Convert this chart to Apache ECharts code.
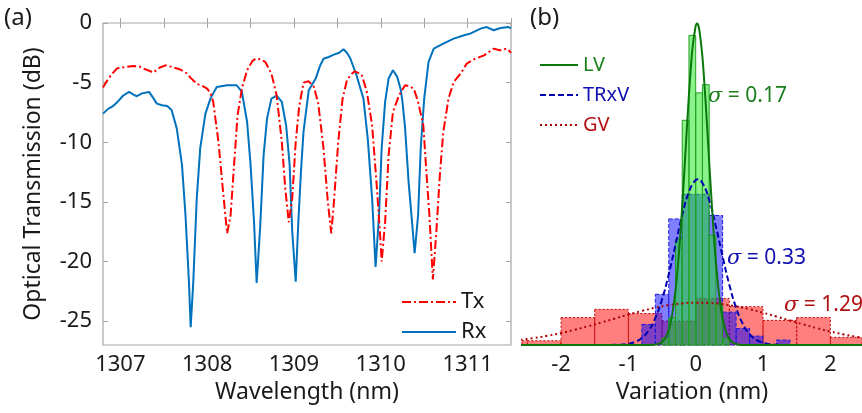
<!DOCTYPE html>
<html><head><meta charset="utf-8">
<script src="https://cdn.jsdelivr.net/npm/echarts@6/dist/echarts.min.js"></script>
<style>html,body{margin:0;padding:0;background:#fff}#c{width:862px;height:413px}</style>
</head><body><div id="c"></div>
<script>
// ---------- Panel (a) data: [wavelength nm, transmission dB] ----------
const rxData = [
[1306.80,-7.6],[1306.86,-7.2],[1306.91,-7.0],[1306.96,-6.67],[1307.03,-6.1],[1307.10,-5.78],[1307.15,-6.0],
[1307.19,-6.14],[1307.25,-5.9],[1307.33,-5.78],[1307.38,-6.3],[1307.42,-6.76],[1307.48,-6.9],[1307.54,-6.96],
[1307.59,-7.3],[1307.65,-8.85],[1307.71,-11.9],[1307.75,-16.1],[1307.79,-21.7],[1307.81,-25.5],[1307.84,-21.7],
[1307.88,-14.7],[1307.92,-10.5],[1307.98,-7.6],[1308.04,-6.3],[1308.11,-5.36],[1308.23,-5.22],[1308.34,-5.22],
[1308.40,-5.78],[1308.46,-8.3],[1308.50,-11.9],[1308.54,-16.7],[1308.57,-21.8],[1308.61,-17.2],[1308.65,-11.1],
[1308.69,-8.0],[1308.74,-6.34],[1308.80,-6.09],[1308.86,-6.62],[1308.91,-8.6],[1308.95,-11.9],[1308.98,-17.5],
[1309.02,-21.7],[1309.05,-16.7],[1309.08,-12.5],[1309.11,-9.1],[1309.17,-5.64],[1309.25,-4.66],[1309.30,-3.6],
[1309.34,-3.0],[1309.40,-2.85],[1309.46,-2.65],[1309.52,-2.5],[1309.57,-2.2],[1309.61,-2.5],[1309.65,-2.98],
[1309.72,-4.38],[1309.80,-6.34],[1309.85,-9.69],[1309.90,-14.7],
[1309.94,-20.45],[1309.98,-16.1],[1310.01,-10.5],[1310.05,-6.62],[1310.09,-4.66],[1310.14,-3.96],[1310.19,-4.52],
[1310.23,-5.6],[1310.25,-6.62],[1310.28,-8.8],[1310.32,-13.3],[1310.36,-16.7],[1310.39,-19.3],[1310.43,-16.1],
[1310.46,-10.5],[1310.50,-6.34],[1310.55,-3.27],[1310.61,-2.15],[1310.72,-1.73],[1310.84,-1.31],[1310.96,-1.03],
[1311.03,-0.89],[1311.15,-0.47],[1311.22,-0.34],[1311.30,-0.61],[1311.38,-0.42],[1311.47,-0.34],[1311.50,-0.45]
];
const txData = [
[1306.80,-5.4],[1306.85,-4.8],[1306.90,-4.3],[1306.96,-3.82],[1307.05,-3.7],[1307.15,-3.6],[1307.22,-3.65],
[1307.27,-3.82],[1307.33,-4.0],[1307.38,-4.16],[1307.45,-3.75],[1307.52,-3.55],[1307.60,-3.7],[1307.69,-3.9],
[1307.76,-4.2],[1307.81,-4.6],[1307.88,-5.1],[1307.95,-5.3],[1308.00,-5.5],[1308.04,-5.9],[1308.07,-6.62],
[1308.13,-9.97],[1308.18,-13.9],[1308.23,-17.65],[1308.27,-16.1],[1308.31,-11.9],[1308.35,-7.74],[1308.40,-5.5],
[1308.46,-3.96],[1308.52,-3.2],[1308.56,-2.98],[1308.62,-3.05],[1308.67,-3.27],[1308.74,-4.24],[1308.80,-6.06],
[1308.86,-9.97],[1308.90,-13.9],[1308.94,-16.7],[1308.98,-14.7],[1309.02,-9.97],[1309.06,-7.0],[1309.11,-5.0],
[1309.17,-4.89],[1309.23,-5.36],[1309.28,-6.76],[1309.34,-10.5],[1309.39,-15.0],[1309.43,-17.65],[1309.46,-15.0],
[1309.51,-9.97],[1309.56,-6.34],[1309.61,-4.8],[1309.66,-4.3],[1309.70,-4.05],[1309.78,-4.33],[1309.84,-5.78],
[1309.90,-8.58],[1309.95,-13.3],[1309.99,-17.5],[1310.01,-20.0],[1310.05,-16.7],[1310.09,-11.1],[1310.14,-7.46],
[1310.21,-6.06],[1310.28,-5.22],[1310.33,-5.3],[1310.38,-5.5],[1310.43,-6.62],[1310.49,-8.58],[1310.52,-11.9],
[1310.56,-16.1],[1310.60,-21.5],[1310.64,-17.5],[1310.68,-12.8],[1310.72,-9.14],[1310.78,-6.34],[1310.84,-4.94],
[1310.92,-4.24],[1310.99,-3.4],[1311.09,-2.98],[1311.19,-2.71],[1311.30,-2.15],[1311.37,-2.29],[1311.45,-2.15],
[1311.50,-2.5]
];
const aXLabels = [1307, 1308, 1309, 1310, 1311];
const aXTicks = [1307, 1307.5, 1308, 1308.5, 1309, 1309.5, 1310, 1310.5, 1311, 1311.5];
const aYLabels = [-25, -20, -15, -10, -5, 0];

// ---------- Panel (b) data ----------
const gvEdges = [-3.0, -2.5, -2.0, -1.5, -1.0, -0.5, 0.0, 0.5, 1.0, 1.5, 2.0];
const gvHeights = [0.031, 0.031, 0.20, 0.26, 0.23, 0.175, 0.34, 0.28, 0.18, 0.20, 0.056];
const gvBinWidth = 0.5;
const trxEdges = [-0.8, -0.6, -0.4, -0.2, 0.0, 0.2, 0.4, 0.6, 0.8, 1.2];
const trxHeights = [0.15, 0.37, 0.92, 1.10, 1.10, 0.945, 0.24, 0.12, 0.065, 0.036];
const trxBinWidth = 0.2;
const lvEdges = [-0.5, -0.4, -0.3, -0.2, -0.1, 0.0, 0.1, 0.2, 0.3, 0.4];
const lvHeights = [0.05, 0.2, 0.77, 1.64, 2.26, 1.84, 1.90, 0.8, 0.3, 0.05];
const lvBinWidth = 0.1;

const lvCurve = [[-2.6,0],[-0.8,0],[-0.7,0.0004],[-0.65,0.001],[-0.6,0.003],[-0.55,0.0085],[-0.5,0.022],[-0.45,0.051],
[-0.4,0.111],[-0.35,0.22],[-0.3,0.399],[-0.25,0.665],[-0.2,1.016],[-0.15,1.424],[-0.1,1.83],[-0.05,2.156],[0,2.331],
[0.02,2.347],[0.05,2.311],[0.1,2.101],[0.15,1.752],[0.2,1.34],[0.25,0.94],[0.3,0.605],[0.35,0.357],[0.4,0.193],
[0.45,0.096],[0.5,0.044],[0.55,0.018],[0.6,0.007],[0.65,0.0025],[0.7,0.0008],[0.8,0],[2.6,0]];
const trxCurve = [[-2.6,0],[-1.6,0],[-1.4,0.0001],[-1.2,0.0012],[-1.1,0.0034],[-1.0,0.0093],[-0.9,0.0228],[-0.8,0.0512],
[-0.7,0.1047],[-0.6,0.1955],[-0.5,0.3329],[-0.4,0.5173],[-0.3,0.7333],[-0.2,0.948],[-0.1,1.1187],[0,1.204],[0.03,1.209],
[0.1,1.182],[0.2,1.059],[0.3,0.865],[0.4,0.645],[0.5,0.4385],[0.6,0.272],[0.7,0.154],[0.8,0.0795],[0.9,0.0374],
[1.0,0.0161],[1.1,0.0063],[1.2,0.0022],[1.4,0.0002],[1.6,0],[2.6,0]];
const gvCurve = [[-2.6,0.0375],[-2.4,0.0509],[-2.2,0.0675],[-2.0,0.0874],[-1.8,0.1105],[-1.6,0.1364],[-1.4,0.1643],
[-1.2,0.1932],[-1.0,0.2219],[-0.8,0.2487],[-0.6,0.2722],[-0.4,0.2908],[-0.2,0.3033],[0,0.3088],[0.2,0.3069],
[0.4,0.2979],[0.6,0.2822],[0.8,0.261],[1.0,0.2356],[1.2,0.2077],[1.4,0.1787],[1.6,0.1501],[1.8,0.1231],[2.0,0.0986],
[2.2,0.0771],[2.4,0.0588],[2.6,0.0438]];
const bXLabels = [-2, -1, 0, 1, 2];
const sigmaTexts = ['0.17', '0.33', '1.29'];

const FONT = 'Noto Sans';
const chart = echarts.init(document.getElementById('c'), null, {renderer: 'canvas'});

function hist(name, edges, heights, w, fill, stroke, dash, z) {
  return {
    type: 'custom', name: name, xAxisIndex: 2, yAxisIndex: 2, z: z, silent: true,
    data: edges.map((e, i) => [e, e + w, heights[i]]),
    encode: {x: [0, 1], y: 2},
    renderItem: function (params, api) {
      const p0 = api.coord([api.value(0), api.value(2)]);
      const p1 = api.coord([api.value(1), 0]);
      const cs = params.coordSys;
      const r = echarts.graphic.clipRectByRect(
        {x: p0[0], y: p0[1], width: p1[0] - p0[0], height: p1[1] - p0[1]},
        {x: cs.x, y: cs.y, width: cs.width, height: cs.height});
      if (!r) return;
      return {type: 'rect', shape: r, style: {fill: fill, stroke: stroke, lineWidth: 1, lineDash: dash}};
    }
  };
}

const axisGray = '#a6a6a6';
const plain = v => String(v);
const labelStyle = {fontFamily: FONT, fontSize: 22, color: '#1a1a1a', formatter: plain};

chart.setOption({
  animation: false,
  textStyle: {fontFamily: FONT},
  grid: [
    {left: 103, top: 23, width: 408, height: 322, show: true, borderColor: axisGray, borderWidth: 1.2, backgroundColor: 'transparent'},
    {left: 522, top: 23, width: 340, height: 322}
  ],
  xAxis: [
    {gridIndex: 0, type: 'value', min: 1306.8, max: 1311.5, position: 'bottom',
     axisLine: {show: false},
     axisTick: {show: true, inside: true, length: 5, lineStyle: {color: axisGray}, customValues: aXTicks},
     axisLabel: Object.assign({customValues: aXLabels, margin: 9}, labelStyle),
     splitLine: {show: false},
     name: 'Wavelength (nm)', nameLocation: 'middle', nameGap: 34,
     nameTextStyle: {fontFamily: FONT, fontSize: 23, color: '#1a1a1a'}},
    {gridIndex: 0, type: 'value', min: 1306.8, max: 1311.5, position: 'top',
     axisLine: {show: false},
     axisTick: {show: true, inside: true, length: 5, lineStyle: {color: axisGray}, customValues: aXTicks},
     axisLabel: {show: false}, splitLine: {show: false}},
    {gridIndex: 1, type: 'value', min: -2.58, max: 2.47,
     axisLine: {show: false}, axisTick: {show: false},
     axisLabel: Object.assign({customValues: bXLabels, margin: 9}, labelStyle),
     splitLine: {show: false},
     name: 'Variation (nm)', nameLocation: 'middle', nameGap: 34,
     nameTextStyle: {fontFamily: FONT, fontSize: 23, color: '#1a1a1a'}}
  ],
  yAxis: [
    {gridIndex: 0, type: 'value', min: -27, max: 0,
     axisLine: {show: false},
     axisTick: {show: true, inside: true, length: 5, lineStyle: {color: axisGray}, customValues: aYLabels},
     axisLabel: Object.assign({customValues: aYLabels, margin: 11}, labelStyle),
     splitLine: {show: false},
     name: 'Optical Transmission (dB)', nameLocation: 'middle', nameGap: 58,
     nameTextStyle: {fontFamily: FONT, fontSize: 23, color: '#1a1a1a'}},
    {gridIndex: 0, type: 'value', min: -27, max: 0, position: 'right',
     axisLine: {show: false},
     axisTick: {show: true, inside: true, length: 5, lineStyle: {color: axisGray}, customValues: aYLabels},
     axisLabel: {show: false}, splitLine: {show: false}},
    {gridIndex: 1, type: 'value', min: 0, max: 2.35, show: false}
  ],
  legend: [
    {orient: 'vertical', left: 396, top: 286, itemWidth: 54, itemHeight: 14, itemGap: 8,
     itemStyle: {opacity: 0, borderWidth: 0},
     data: ['Tx', 'Rx'], textStyle: {fontFamily: FONT, fontSize: 22, color: '#1a1a1a'}},
    {orient: 'vertical', left: 534, top: 50, itemWidth: 38, itemHeight: 14, itemGap: 10,
     itemStyle: {opacity: 0, borderWidth: 0},
     data: [{name: 'LV', textStyle: {color: '#1b7d1b'}}, {name: 'TRxV', textStyle: {color: '#1010b0'}}, {name: 'GV', textStyle: {color: '#b01010'}}],
     textStyle: {fontFamily: FONT, fontSize: 20}}
  ],
  series: [
    {type: 'line', name: 'Tx', xAxisIndex: 0, yAxisIndex: 0, data: txData, symbol: 'none', z: 3,
     lineStyle: {color: '#ff0000', width: 2, type: [9, 3, 2, 3]}, itemStyle: {color: '#ff0000'}},
    {type: 'line', name: 'Rx', xAxisIndex: 0, yAxisIndex: 0, data: rxData, symbol: 'none', z: 2,
     lineStyle: {color: '#0072bd', width: 2}, itemStyle: {color: '#0072bd'}},
    hist('GVhist', gvEdges, gvHeights, gvBinWidth, 'rgba(255,0,0,0.5)', '#c00000', [2, 2], 1),
    hist('TRxVhist', trxEdges, trxHeights, trxBinWidth, 'rgba(0,0,255,0.5)', '#1a1ae0', [4, 2], 2),
    hist('LVhist', lvEdges, lvHeights, lvBinWidth, 'rgba(20,230,20,0.5)', '#20a020', null, 3),
    {type: 'line', name: 'GV', xAxisIndex: 2, yAxisIndex: 2, data: gvCurve, symbol: 'none', smooth: true, z: 4,
     lineStyle: {color: '#b00000', width: 2, type: [2, 3]}, itemStyle: {color: '#b00000'}},
    {type: 'line', name: 'TRxV', xAxisIndex: 2, yAxisIndex: 2, data: trxCurve, symbol: 'none', smooth: true, z: 5,
     lineStyle: {color: '#0000b0', width: 2, type: [6, 3]}, itemStyle: {color: '#0000b0'}},
    {type: 'line', name: 'LV', xAxisIndex: 2, yAxisIndex: 2, data: lvCurve, symbol: 'none', smooth: 0.3, z: 6,
     lineStyle: {color: '#0a780a', width: 2}, itemStyle: {color: '#0a780a'}}
  ],
  graphic: [
    {type: 'text', left: 4, top: 6, style: {text: '(a)', font: '24px "Noto Sans"', fill: '#1a1a1a'}},
    {type: 'text', left: 530, top: 6, style: {text: '(b)', font: '24px "Noto Sans"', fill: '#1a1a1a'}},
    {type: 'text', left: 708, top: 86, style: {text: '{s|σ} = ' + sigmaTexts[0], rich: {s: {fontFamily: 'DejaVu Serif', fontStyle: 'italic', fontSize: 21, fill: '#1b7d1b'}}, font: '21px "Noto Sans"', fill: '#1b7d1b'}},
    {type: 'text', left: 727, top: 248, style: {text: '{s|σ} = ' + sigmaTexts[1], rich: {s: {fontFamily: 'DejaVu Serif', fontStyle: 'italic', fontSize: 21, fill: '#1010b0'}}, font: '21px "Noto Sans"', fill: '#1010b0'}},
    {type: 'text', left: 784, top: 295, style: {text: '{s|σ} = ' + sigmaTexts[2], rich: {s: {fontFamily: 'DejaVu Serif', fontStyle: 'italic', fontSize: 21, fill: '#b01010'}}, font: '21px "Noto Sans"', fill: '#b01010'}}
  ]
});
</script></body></html>
